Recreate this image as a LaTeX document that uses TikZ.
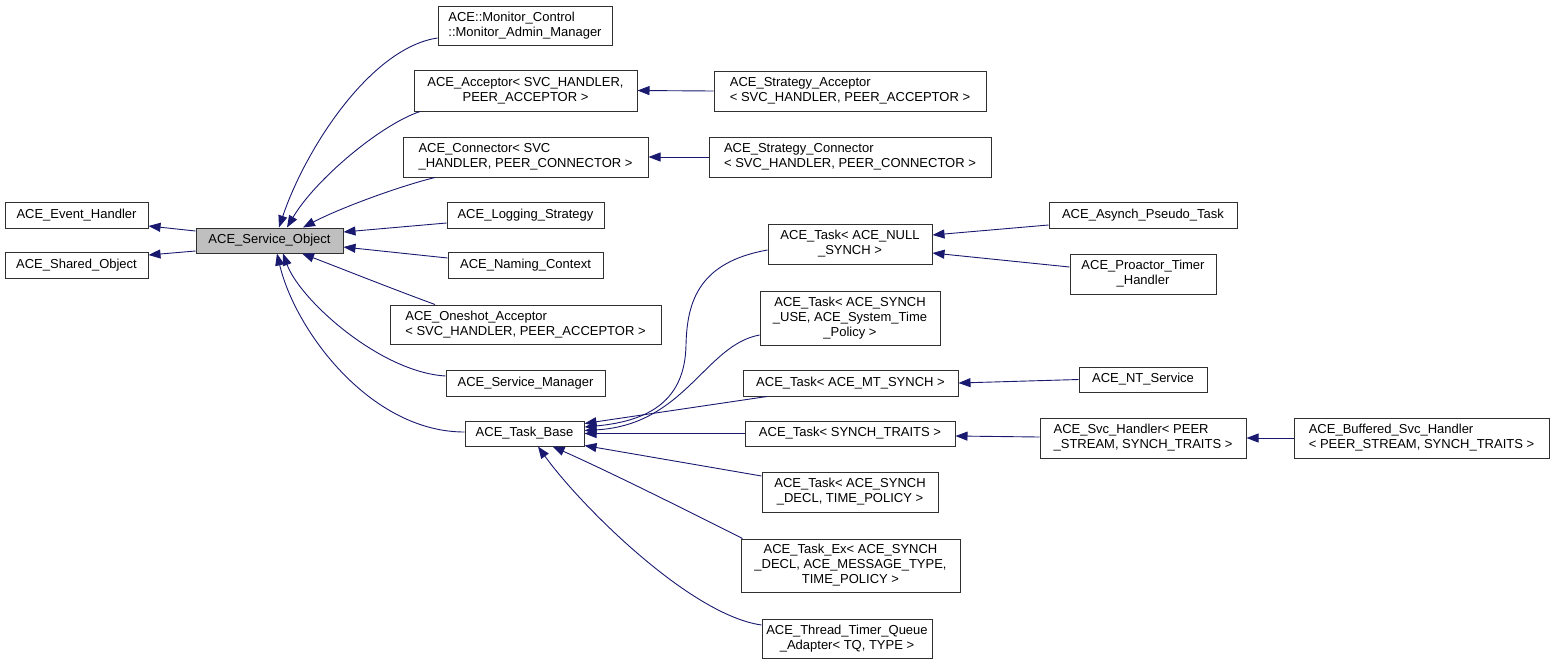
\documentclass[tikz,border=0pt]{standalone}
\usepackage{fontspec}
\setmainfont{Liberation Sans}
\usetikzlibrary{arrows.meta,calc}
\definecolor{edgeblue}{HTML}{191970}
\definecolor{boxline}{HTML}{303030}
\definecolor{grayfill}{HTML}{BFBFBF}
\tikzset{
  cbox/.style={draw=boxline,line width=1pt,fill=white,inner sep=0pt,
    font=\fontsize{13}{15}\selectfont},
  edge/.style={draw=edgeblue,line width=0.9pt,-{Triangle[length=12pt,width=9pt]}},
}
\newcommand\cls[7]{\node[cbox,align=#6,minimum width={(#4-#2)*1pt},minimum height={(#5-#3)*1pt}] (#1) at ({(#2+#4)/2},{(#3+#5)/2}) {#7};}
\begin{document}
\begin{tikzpicture}[x=1pt,y=-1pt]
\useasboundingbox (0,0) rectangle (1555,665);
% nodes
\cls{eh}{5}{202}{148}{228}{center}{ACE\_Event\_Handler}
\cls{sh}{5}{252}{148}{278}{center}{ACE\_Shared\_Object}
\node[cbox,fill=grayfill,minimum width=147pt,minimum height=25pt] (so) at (269.5,240.5) {ACE\_Service\_Object};
\cls{mon}{438}{6}{612}{45}{left}{ACE::Monitor\_Control\\::Monitor\_Admin\_Manager}
\cls{acc}{414}{70}{637}{111}{center}{ACE\_Acceptor< SVC\_HANDLER,\\ PEER\_ACCEPTOR >}
\cls{con}{403}{137}{648}{177}{left}{ACE\_Connector< SVC\\\_HANDLER, PEER\_CONNECTOR >}
\cls{log}{447}{202}{604}{228}{center}{ACE\_Logging\_Strategy}
\cls{nam}{448}{252}{603}{278}{center}{ACE\_Naming\_Context}
\cls{one}{390}{305}{661}{344}{left}{ACE\_Oneshot\_Acceptor\\< SVC\_HANDLER, PEER\_ACCEPTOR >}
\cls{sm}{446}{370}{605}{396}{center}{ACE\_Service\_Manager}
\cls{tb}{465}{421}{584}{446}{center}{ACE\_Task\_Base}
\cls{sacc}{714}{71}{986}{111}{left}{ACE\_Strategy\_Acceptor\\< SVC\_HANDLER, PEER\_ACCEPTOR >}
\cls{scon}{709}{137}{991}{177}{left}{ACE\_Strategy\_Connector\\< SVC\_HANDLER, PEER\_CONNECTOR >}
\cls{tnull}{768}{224}{932}{264}{center}{ACE\_Task< ACE\_NULL\\\_SYNCH >}
\cls{tuse}{760}{291}{940}{345}{center}{ACE\_Task< ACE\_SYNCH\\\_USE, ACE\_System\_Time\\\_Policy >}
\cls{tmt}{743}{370}{958}{396}{center}{ACE\_Task< ACE\_MT\_SYNCH >}
\cls{ttr}{745}{421}{955}{446}{center}{ACE\_Task< SYNCH\_TRAITS >}
\cls{tdecl}{762}{472}{938}{512}{center}{ACE\_Task< ACE\_SYNCH\\\_DECL, TIME\_POLICY >}
\cls{tex}{741}{539}{960}{592}{center}{ACE\_Task\_Ex< ACE\_SYNCH\\\_DECL, ACE\_MESSAGE\_TYPE,\\ TIME\_POLICY >}
\cls{ttq}{762}{619}{932}{658}{center}{ACE\_Thread\_Timer\_Queue\\\_Adapter< TQ, TYPE >}
\cls{apt}{1049}{202}{1237}{228}{center}{ACE\_Asynch\_Pseudo\_Task}
\cls{pth}{1070}{254}{1216}{294}{center}{ACE\_Proactor\_Timer\\\_Handler}
\cls{nts}{1079}{367}{1207}{392}{center}{ACE\_NT\_Service}
\cls{svc}{1040}{418}{1246}{458}{left}{ACE\_Svc\_Handler< PEER\\\_STREAM, SYNCH\_TRAITS >}
\cls{bsvc}{1294}{418}{1549}{458}{left}{ACE\_Buffered\_Svc\_Handler\\< PEER\_STREAM, SYNCH\_TRAITS >}
% edges to Service_Object parents
\draw[edge] ($(so.west)+(0,-9.5)$) -- ($(eh.east)+(0,11)$);
\draw[edge] ($(so.west)+(0,10.5)$) -- ($(sh.east)+(0,-10)$);
% edges into Service_Object
\draw[edge] ($(mon.west)+(0,12.5)$) .. controls (370,48) and (305,150) .. ($(so.north)+(9.5,0)$);
\draw[edge] ($(acc.south)+(-105.5,0)$) .. controls (380,125) and (315,180) .. ($(so.north)+(17.5,0)$);
\draw[edge] ($(con.south)+(-90.5,0)$) .. controls (400,186) and (340,208) .. ($(so.north)+(33.5,0)$);
\draw[edge] ($(log.west)+(0,8)$) -- ($(so.east)+(0,-8.5)$);
\draw[edge] ($(nam.west)+(0,-7)$) -- ($(so.east)+(0,6.5)$);
\draw[edge] ($(one.north)+(-90.5,0)$) .. controls (390,288) and (340,268) .. ($(so.south)+(32.5,0)$);
\draw[edge] ($(sm.west)+(0,-7)$) .. controls (380,372) and (300,300) .. ($(so.south)+(13.5,0)$);
\draw[edge] ($(tb.west)+(0,-1.5)$) .. controls (370,432) and (295,330) .. ($(so.south)+(7.5,0)$);
% template specialisations
\draw[edge] (sacc.west) -- (acc.east);
\draw[edge] (scon.west) -- (con.east);
% edges into Task_Base
\draw[edge] ($(tnull.west)+(0,6)$) .. controls (700,262) and (687,300) .. (686,345) .. controls (685,400) and (650,421) .. ($(tb.east)+(0,-6.5)$);
\draw[edge] ($(tuse.west)+(0,17)$) .. controls (705,345) and (685,425) .. ($(tb.east)+(0,-3)$);
\draw[edge] ($(tmt.south)+(-83.5,0)$) -- ($(tb.east)+(0,-10)$);
\draw[edge] (ttr.west) -- (tb.east);
\draw[edge] ($(tdecl.west)+(0,-16)$) -- ($(tb.south east)+(0,-1)$);
\draw[edge] ($(tex.north west)+(2,0)$) .. controls (690,512) and (610,472) .. ($(tb.south)+(28,0)$);
\draw[edge] ($(ttq.west)+(0,-13.5)$) .. controls (690,615) and (580,505) .. ($(tb.south)+(13.5,0)$);
% further levels
\draw[edge] ($(apt.west)+(0,10)$) -- ($(tnull.east)+(0,-9)$);
\draw[edge] ($(pth.west)+(0,-7)$) -- ($(tnull.east)+(0,9)$);
\draw[edge] (nts.west) -- (tmt.east);
\draw[edge] ($(svc.west)+(0,-1)$) -- ($(ttr.east)+(0,2.5)$);
\draw[edge] (bsvc.west) -- (svc.east);
\end{tikzpicture}
\end{document}
